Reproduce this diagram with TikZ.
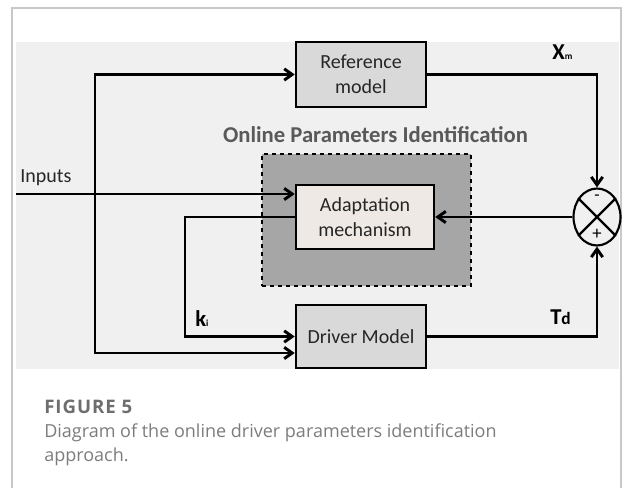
\documentclass[tikz,border=0pt]{standalone}
\usepackage{fontspec}
\setmainfont{Carlito}
\newfontfamily\capfont{Open Sans}
\newfontfamily\capboldfont[LetterSpace=5]{Open Sans Bold}
\usetikzlibrary{arrows.meta,shapes.geometric}
\definecolor{panel}{HTML}{F0F0F0}
\definecolor{boxgray}{HTML}{D9D9D9}
\definecolor{darkzone}{HTML}{A6A6A6}
\definecolor{beige}{HTML}{EEE9E4}
\definecolor{titlegray}{HTML}{595959}
\definecolor{framegray}{HTML}{C8C8C8}
\definecolor{capbold}{HTML}{6E6E6E}
\definecolor{capgray}{HTML}{7C7C7C}
\begin{document}
\begin{tikzpicture}[x=0.75pt,y=-0.75pt,
  barb/.tip={Straight Barb[length=6pt,width=8.5pt]},
  block/.style={draw=black,line width=1.9pt,fill=boxgray,align=center,
    inner sep=0pt,text=black!85,font=\fontsize{15}{18.5}\selectfont},
  conn/.style={line width=2.2pt,-barb},
  sig/.style={inner sep=0pt,anchor=base west,text=black},
  captext/.style={inner sep=0pt,anchor=base west,font=\capfont\fontsize{13.5}{15}\selectfont}]
\useasboundingbox (0,0) rectangle (625,488);
% outer frame and diagram panel
\draw[framegray,line width=0.8pt] (12,488) -- (12,8) -- (621,8) -- (621,488);
\fill[panel] (16,42) rectangle (619,369);
% identification zone
\node[draw=black,dashed,line width=1.1pt,fill=darkzone,minimum width=156.75pt,
  minimum height=99pt,inner sep=0pt] (zone) at (366.5,220) {};
\node[font=\bfseries\fontsize{17}{20}\selectfont,text=titlegray,inner sep=0pt,anchor=base]
  (ztitle) at (375.5,143) {Online Parameters Identification};
% blocks
\node[block,minimum width=97.5pt,minimum height=48.75pt] (ref) at (361,74.5) {Reference\\model};
\node[block,fill=beige,minimum width=103.5pt,minimum height=48pt] (adapt) at (365,217) {Adaptation\\mechanism};
\node[block,minimum width=97.5pt,minimum height=47.25pt] (drv) at (361,336.5) {Driver Model};
% summing junction
\node[draw=black,line width=1.6pt,ellipse,minimum width=35.25pt,minimum height=42.75pt,
  inner sep=0pt] (sum) at (597,217) {};
\draw[line width=1.6pt] (sum.135) -- (sum.-45) (sum.45) -- (sum.-135);
\node[inner sep=0pt,font=\fontsize{13}{13}\selectfont] (minus) at (597,198) {-};
\node[inner sep=0pt,font=\fontsize{14}{14}\selectfont] (plus) at (597,234) {+};
% free ends of the input lines
\coordinate (inp) at (16,194);
\coordinate (bb) at (95,353);
\coordinate (kc) at (185,336.5);
% connectors
\draw[conn] (inp) -- (inp -| adapt.west);
\draw[line width=2.2pt,barb-barb] (ref.west) -| (bb) -- (bb -| drv.west);
\draw[conn] (adapt.west) -| (kc) -- (drv.west);
\draw[conn] (ref.east) -| (sum.north);
\draw[conn] (drv.east) -| (sum.south);
\draw[conn] (sum.west) -- (adapt.east);
% signal labels
\node[sig,font=\fontsize{15}{18}\selectfont,text=black!85] (lin) at (20,183) {Inputs};
\node[sig] (lxm) at (552,60) {\bfseries\fontsize{17}{20}\selectfont X\fontsize{7}{8}\selectfont m};
\node[sig] (ltd) at (550,325) {\bfseries\fontsize{17}{20}\selectfont T\fontsize{13}{14}\selectfont d};
\node[sig] (lki) at (195,327) {\bfseries\fontsize{17}{20}\selectfont k\fontsize{7}{8}\selectfont i};
% caption
\node[captext,text=capbold,font=\capboldfont\fontsize{14}{15}\selectfont] (fig) at (44,413) {FIGURE 5};
\node[captext,text=capgray] (c1) at (44,437) {Diagram of the online driver parameters identification};
\node[captext,text=capgray] (c2) at (44,461) {approach.};
\end{tikzpicture}
\end{document}
